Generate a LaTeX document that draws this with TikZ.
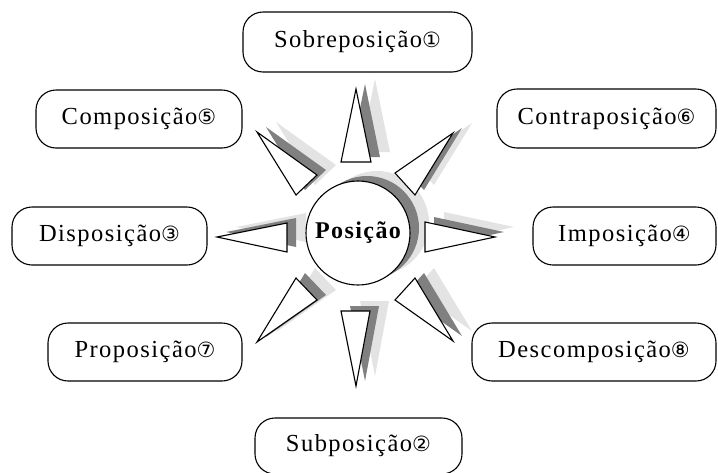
\documentclass[tikz,border=0pt]{standalone}
\usepackage{fontspec}
\setmainfont{Liberation Serif}[LetterSpace=6]
\newfontfamily\circled{DejaVu Sans}
\usetikzlibrary{shapes.geometric}
\definecolor{shadowdark}{HTML}{808080}
\definecolor{shadowlight}{HTML}{E3E3E3}
\tikzset{
  term/.style={draw, line width=1.1pt, rounded corners=20pt, fill=white,
    inner sep=0pt, font=\fontsize{24.5}{28}\selectfont},
  ray/.style={draw, line width=1.1pt, fill=white, line join=miter},
  darkshade/.style={fill=shadowdark},
  lightshade/.style={fill=shadowlight},
}
\newcommand{\cn}[1]{{\circled\fontsize{21}{24}\selectfont #1}}
\begin{document}
\begin{tikzpicture}[x=1pt,y=-1pt]
\useasboundingbox (0,0) rectangle (718,472);
% ray triangles: apex, then the two base corners
\def\rays{356/89/341/162/371/162,
          453/133/395/173/415/195,
          257/132/317/175/296/195,
          217/237/287/223/287/252,
          495/237/425/222/425/252,
          257/342/296/278/317/300,
          356/386/341/311/370/311,
          453/341/395/300/415/278}
% light shadow layer
\foreach \ax/\ay/\bx/\by/\cx/\cy in \rays
  \fill[lightshade, shift={(19,-10)}] (\ax,\ay) -- (\bx,\by) -- (\cx,\cy) -- cycle;
\fill[lightshade] (377,223) circle[radius=52];
% dark shadow layer
\foreach \ax/\ay/\bx/\by/\cx/\cy in \rays
  \fill[darkshade, shift={(9,-5)}] (\ax,\ay) -- (\bx,\by) -- (\cx,\cy) -- cycle;
\fill[darkshade] (367,228) circle[radius=52];
% white rays
\foreach \ax/\ay/\bx/\by/\cx/\cy in \rays
  \draw[ray] (\ax,\ay) -- (\bx,\by) -- (\cx,\cy) -- cycle;
% central circle
\node[circle, draw, line width=1.1pt, fill=white, minimum size=104pt, inner sep=0pt,
  font=\bfseries\fontsize{24}{28}\selectfont] (core) at (358,233) {Posição};
% surrounding terms
\node[term, minimum width=229pt, minimum height=60pt] (sobre) at (357.5,42) {Sobreposição\cn{①}};
\node[term, minimum width=206pt, minimum height=58pt] (compo) at (139,119) {Composição\cn{⑤}};
\node[term, minimum width=219pt, minimum height=59pt] (contra) at (606.5,118.5) {Contraposição\cn{⑥}};
\node[term, minimum width=195pt, minimum height=58pt] (dispo) at (109.5,236) {Disposição\cn{③}};
\node[term, minimum width=183pt, minimum height=58pt] (impo) at (624.5,236) {Imposição\cn{④}};
\node[term, minimum width=194pt, minimum height=58pt] (propo) at (145,352) {Proposição\cn{⑦}};
\node[term, minimum width=244pt, minimum height=58pt] (desco) at (594,352) {Descomposição\cn{⑧}};
\node[term, minimum width=207pt, minimum height=56pt] (subpo) at (358.5,446) {Subposição\cn{②}};
\end{tikzpicture}
\end{document}
